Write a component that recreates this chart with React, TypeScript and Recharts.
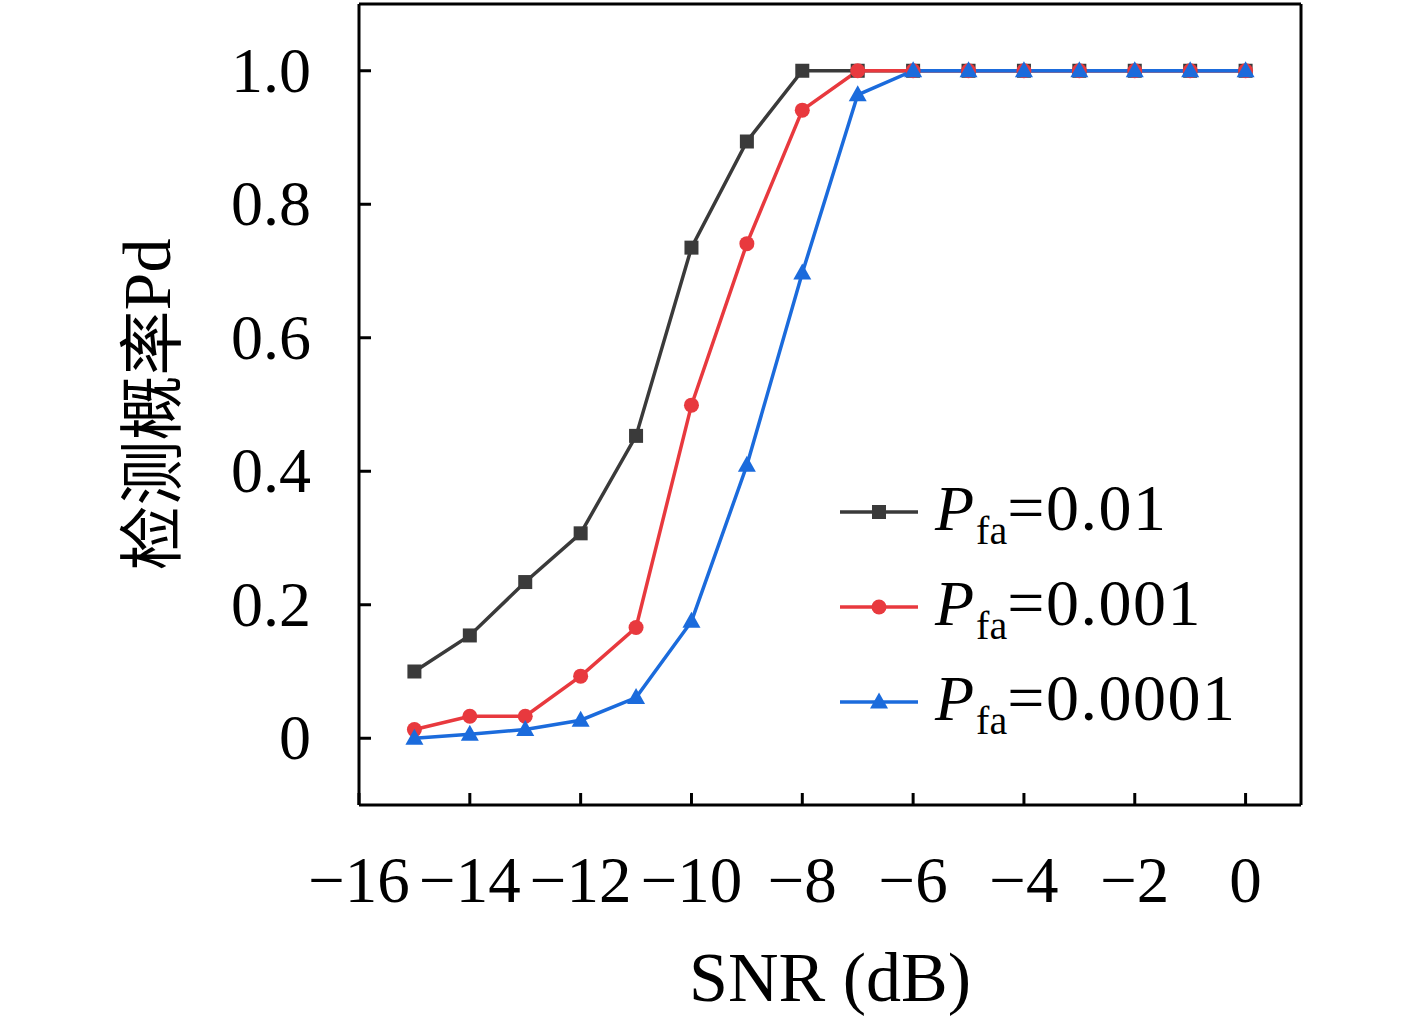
import React from "react";
import { LineChart, Line, XAxis, YAxis, Legend, ReferenceLine } from "recharts";

const snrValues = [-15, -14, -13, -12, -11, -10, -9, -8, -7, -6, -5, -4, -3, -2, -1, 0];
const pdPfa001 = [0.1, 0.154, 0.234, 0.307, 0.453, 0.735, 0.894, 1, 1, 1, 1, 1, 1, 1, 1, 1];
const pdPfa0001 = [0.013, 0.033, 0.033, 0.093, 0.166, 0.499, 0.741, 0.941, 1, 1, 1, 1, 1, 1, 1, 1];
const pdPfa00001 = [0, 0.006, 0.013, 0.027, 0.061, 0.175, 0.409, 0.697, 0.964, 1, 1, 1, 1, 1, 1, 1];

const xDomain = [-16, 1];
const yDomain = [-0.1, 1.1];
const xTicks = [-16, -14, -12, -10, -8, -6, -4, -2, 0];
const yTicks = [0, 0.2, 0.4, 0.6, 0.8, 1.0];
const seriesNames = ["0.01", "0.001", "0.0001"];
const seriesColors = ["#3a3a3a", "#e8393e", "#1b6bdc"];
const seriesShapes = ["square", "circle", "triangle"];

const data = snrValues.map((s, i) => ({
  snr: s,
  a: pdPfa001[i],
  b: pdPfa0001[i],
  c: pdPfa00001[i],
}));

const FONT = "'Liberation Serif', 'DejaVu Serif', serif";

function Marker({ cx, cy, shape, color, scale = 1 }: any) {
  if (cx == null || cy == null) return null;
  if (shape === "square") {
    const s = 14 * scale;
    return <rect x={cx - s / 2} y={cy - s / 2} width={s} height={s} fill={color} />;
  }
  if (shape === "circle") {
    return <circle cx={cx} cy={cy} r={7.5 * scale} fill={color} />;
  }
  const w = 18 * scale;
  const h = 16 * scale;
  return (
    <polygon
      points={`${cx},${cy - h * 0.6} ${cx - w / 2},${cy + h * 0.4} ${cx + w / 2},${cy + h * 0.4}`}
      fill={color}
    />
  );
}

const XTick = ({ x, y, payload }: any) => {
  const v = payload.value;
  const label = v < 0 ? "\u2212" + Math.abs(v) : String(v);
  return (
    <g>
      <line x1={x} y1={y} x2={x} y2={y - 12} stroke="#000" strokeWidth={3} />
      <text x={x} y={y + 97} textAnchor="middle" fontFamily={FONT} fontSize={65} fill="#000">
        {label}
      </text>
    </g>
  );
};

const YTick = ({ x, y, payload }: any) => {
  const v = payload.value;
  const label = v === 0 ? "0" : v.toFixed(1);
  return (
    <g>
      <line x1={x} y1={y} x2={x + 12} y2={y} stroke="#000" strokeWidth={3} />
      <text x={x - 48} y={y + 21} textAnchor="end" fontFamily={FONT} fontSize={64} fill="#000">
        {label}
      </text>
    </g>
  );
};

const XLabel = ({ viewBox }: any) => {
  const { x, y, width } = viewBox;
  return (
    <text x={x + width / 2} y={y + 196} textAnchor="middle" fontFamily={FONT} fontSize={70} fill="#000">
      SNR (dB)
    </text>
  );
};

const YLabel = ({ viewBox }: any) => {
  const { x, y, height } = viewBox;
  const cx = x + 147;
  const cy = y + height / 2;
  return (
    <text
      x={cx}
      y={cy}
      transform={`rotate(-90 ${cx} ${cy})`}
      textAnchor="middle"
      dominantBaseline="central"
      fontFamily={"'Noto Sans CJK SC', " + FONT}
      fontSize={65}
      fill="#000"
    >
      检测概率<tspan fontFamily={FONT} fontSize={68}>Pd</tspan>
    </text>
  );
};

const LegendContent = ({ payload }: any) => {
  const items = [...(payload || [])]
    .map((p: any) => ({ p, i: seriesNames.indexOf(String(p.value)) }))
    .filter((o) => o.i >= 0)
    .sort((a, b) => a.i - b.i);
  return (
    <div>
      {items.map(({ i }) => (
        <svg key={i} width={460} height={95} style={{ display: "block" }}>
          <line x1={10} y1={42} x2={88} y2={42} stroke={seriesColors[i]} strokeWidth={3.5} />
          <Marker cx={49} cy={42} shape={seriesShapes[i]} color={seriesColors[i]} />
          <text x={105} y={60} fontFamily={FONT} fontSize={64} fill="#000">
            <tspan fontStyle="italic">P</tspan>
            <tspan fontSize={40} dy={14} dx={2}>fa</tspan>
            <tspan dy={-14} fontSize={66} letterSpacing={1.5}>={seriesNames[i]}</tspan>
          </text>
        </svg>
      ))}
    </div>
  );
};

export default function App() {
  return (
    <div style={{ position: "absolute", left: 0, top: 0, width: 1417, height: 1025, background: "#fff" }}>
      <LineChart
        width={1417}
        height={1025}
        data={data}
        margin={{ top: 4, right: 116, bottom: 0, left: 0 }}
      >
        <XAxis
          dataKey="snr"
          type="number"
          domain={xDomain}
          ticks={xTicks}
          allowDataOverflow
          height={220}
          tickSize={0}
          tickMargin={0}
          tickLine={false}
          axisLine={{ stroke: "#000", strokeWidth: 3 }}
          tick={<XTick />}
          interval={0}
          label={<XLabel />}
        />
        <YAxis
          type="number"
          domain={yDomain}
          ticks={yTicks}
          allowDataOverflow
          width={359}
          tickSize={0}
          tickMargin={0}
          tickLine={false}
          axisLine={{ stroke: "#000", strokeWidth: 3 }}
          tick={<YTick />}
          interval={0}
          label={<YLabel />}
        />
        <ReferenceLine y={yDomain[1]} stroke="#000" strokeWidth={3} />
        <ReferenceLine x={xDomain[1]} stroke="#000" strokeWidth={3} />
        <Legend
          layout="vertical"
          verticalAlign="middle"
          align="center"
          wrapperStyle={{ left: 830, top: 470, width: 460 }}
          content={<LegendContent />}
        />
        {(["a", "b", "c"] as const).map((k, i) => (
          <Line
            key={k}
            dataKey={k}
            name={seriesNames[i]}
            stroke={seriesColors[i]}
            strokeWidth={3.5}
            isAnimationActive={false}
            dot={(props: any) => (
              <Marker key={`${k}-${props.index}`} cx={props.cx} cy={props.cy} shape={seriesShapes[i]} color={seriesColors[i]} />
            )}
            activeDot={false}
          />
        ))}
      </LineChart>
    </div>
  );
}
